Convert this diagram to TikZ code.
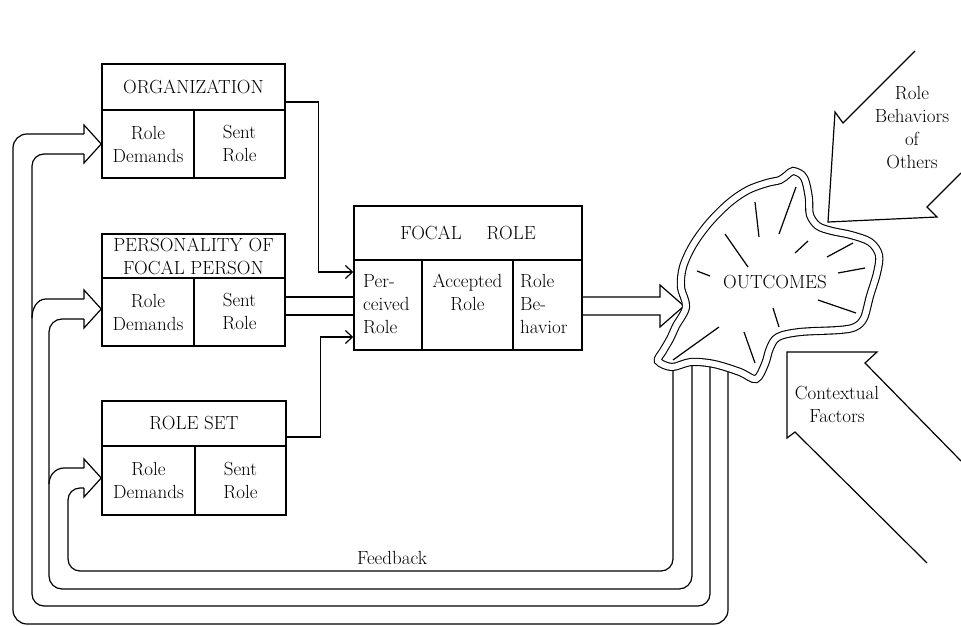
\documentclass[tikz,border=0pt]{standalone}
\usetikzlibrary{arrows.meta,calc}
\begin{document}
\begin{tikzpicture}[x=1pt,y=-1pt,
  every node/.style={font=\fontsize{19}{23}\selectfont},
  cell/.style={draw, line width=1.5pt, inner sep=0pt, align=center},
  ln/.style={line width=1.2pt},
  barb/.style={ln,-{Straight Barb[length=7pt,width=13pt,line width=1.2pt]}},
  lbl/.style={align=center, inner sep=0pt},
  blob/.style={line width=1.1pt, double=white, double distance=6pt},
]
\useasboundingbox (0,0) rectangle (961,626);

% ORGANIZATION
\node[cell, minimum width=183pt, minimum height=46pt] (orgT) at (193.5,87) {ORGANIZATION};
\node[cell, minimum width=92pt, minimum height=68pt] (orgD) at (148,144) {Role\\Demands};
\node[cell, minimum width=91pt, minimum height=68pt] (orgS) at (239.5,144) {Sent\\Role};

% PERSONALITY
\node[cell, minimum width=183pt, minimum height=44pt] (persT) at (193.5,256) {PERSONALITY OF\\FOCAL PERSON};
\node[cell, minimum width=92pt, minimum height=68pt] (persD) at (148,312) {Role\\Demands};
\node[cell, minimum width=91pt, minimum height=68pt] (persS) at (239.5,312) {Sent\\Role};

% ROLE SET
\node[cell, minimum width=184pt, minimum height=45pt] (rsT) at (194,423.5) {ROLE SET};
\node[cell, minimum width=93pt, minimum height=69pt] (rsD) at (148.5,480.5) {Role\\Demands};
\node[cell, minimum width=91pt, minimum height=69pt] (rsS) at (240.5,480.5) {Sent\\Role};

% FOCAL ROLE
\node[cell, minimum width=228pt, minimum height=54pt] (foT) at (468,233) {FOCAL\hspace{25pt}ROLE};
\node[cell, minimum width=68pt, minimum height=90pt] (foP) at (388,305) {};
\node[cell, minimum width=91pt, minimum height=90pt] (foA) at (467.5,305) {};
\node[cell, minimum width=69pt, minimum height=90pt] (foB) at (547.5,305) {};
\node[lbl, anchor=north west, align=left] (foPt) at (363,274) {Per-\\ceived\\Role};
\node[lbl, anchor=north] (foAt) at (467.5,274) {Accepted\\Role};
\node[lbl, anchor=north west, align=left] (foBt) at (520,274) {Role\\Be-\\havior};

% connectors into focal role
\draw[barb] ([yshift=-15pt]orgT.east) -- ++(33,0) |- ([yshift=33pt]foP.west);
\draw[barb] ([yshift=-13.5pt]rsT.east) -- ++(34,0) |- ([yshift=-32pt]foP.west);
\draw[ln] ([yshift=15pt]persS.east) -- ([yshift=15pt]persS.east -| foP.west);
\draw[ln] ([yshift=-3pt]persS.east) -- ([yshift=-3pt]persS.east -| foP.west);

% focal role -> outcomes (hollow arrow)
\coordinate (tipO) at (684,306);
\draw[ln] ([yshift=8pt]foB.east) -- (660,297) -- (660,285) -- (tipO) -- (660,327) -- (660,315) -- ([yshift=-10pt]foB.east);

% feedback lines
\draw[ln, rounded corners=14pt] (728,368) -- (728,624) -- (13,624) -- (13,134) -- (84,134);
\draw[ln, rounded corners=12pt] (710,365) -- (710,606) -- (32,606) -- (32,154) -- (84,154);
\draw[ln] (32,318) to[out=90,in=180] (46,299) -- (84,299);
\draw[ln, rounded corners=13pt] (692,363) -- (692,589) -- (49,589) -- (49,319) -- (84,319);
\draw[ln] (49,484) to[out=90,in=180] (64,468) -- (84,468);
\draw[ln, rounded corners=12pt] (673,366) -- (673,571) -- (68,571) -- (68,488) -- (84,488);

% hollow arrow heads into the boxes
\draw[ln] (84,134) -- (84,125) -- (orgD.west) -- (84,163) -- (84,154);
\draw[ln] (84,299) -- (84,290) -- ([yshift=3pt]persD.west) -- (84,328) -- (84,319);
\draw[ln] (84,468) -- (84,459) -- ([yshift=2.5pt]rsD.west) -- (84,497) -- (84,488);

\node (fb) at (392,558) {Feedback};

% OUTCOMES blob
\draw[blob] plot[smooth cycle, tension=0.55] coordinates {
 (793,171) (802,175) (806,183) (809,199) (810,215) (818,226) (832,231)
 (851,235) (870,242) (879,255) (877,273) (870,296) (864,318) (855,327)
 (839,330) (800,332) (778,337) (770,348) (765,364) (756,379) (740,372)
 (714,364) (691,362) (672,367) (658,361) (663,351) (670,339) (676,326)
 (686,307) (681,287) (683,267) (693,245) (709,223) (729,203) (748,190)
 (767,183) (780,180) (787,175)};
\node (outc) at (775,282) {OUTCOMES};
\foreach \a/\b in {
 {(755,202)}/{(759,237)}, {(796,187)}/{(779,234)}, {(725,234)}/{(748,267)},
 {(808,241)}/{(795,253)}, {(853,243)}/{(827,257)}, {(865,268)}/{(838,273)},
 {(697,271)}/{(710,276)}, {(818,300)}/{(856,313)}, {(773,308)}/{(779,327)},
 {(719,327)}/{(673,360)}, {(744,332)}/{(755,363)}}
  \draw[ln] \a -- \b;

% Role Behaviors of Others arrow
\draw[ln] (915,51) -- (843,123) -- (835,112) -- (828,222) -- (937,217) -- (927,207) -- (961,173);
\node[lbl] (rbo) at (912,128) {Role\\Behaviors\\of\\Others};

% Contextual Factors arrow
\draw[ln] (961,461) -- (865,363) -- (877,352) -- (787,352) -- (787,438) -- (795,432) -- (927,563);
\node[lbl] (ctx) at (837,404) {Contextual\\Factors};
\end{tikzpicture}
\end{document}
